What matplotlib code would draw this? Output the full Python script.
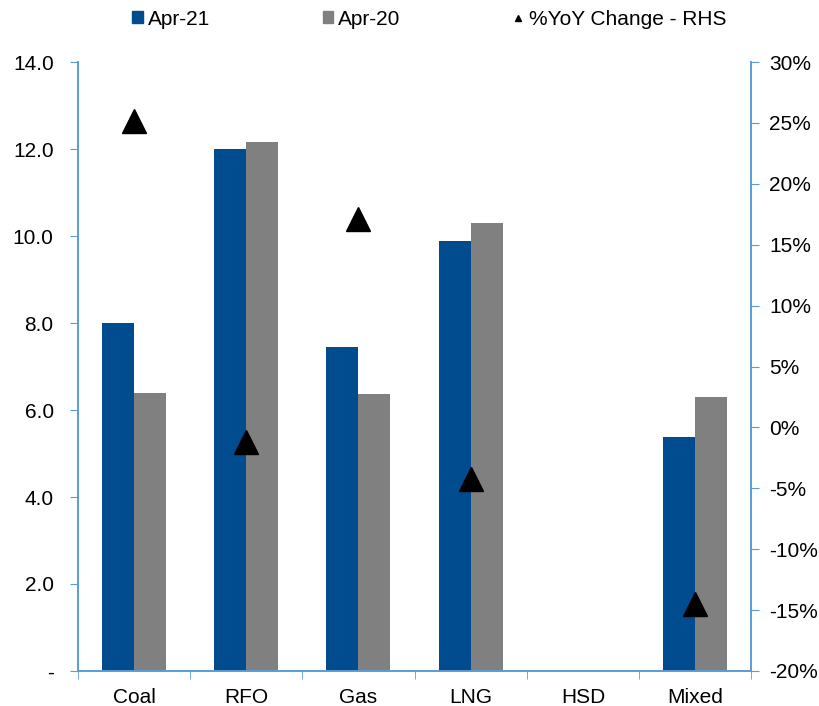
import matplotlib.pyplot as plt
import numpy as np
from matplotlib.lines import Line2D
from matplotlib.patches import Patch
from matplotlib.ticker import FuncFormatter, MultipleLocator

plt.rcParams["font.family"] = ["Liberation Sans", "DejaVu Sans"]

categories = ["Coal", "RFO", "Gas", "LNG", "HSD", "Mixed"]
apr21 = [8.0, 12.0, 7.46, 9.89, 0.0, 5.39]
apr20 = [6.40, 12.16, 6.36, 10.3, 0.0, 6.29]
yoy_change = [25.2, -1.2, 17.1, -4.2, np.nan, -14.5]

blue = "#004C8F"
gray = "#808080"
spine_color = "#5B9BD5"

fig = plt.figure(figsize=(8.19, 7.06), dpi=100)
ax = fig.add_axes([0.0952, 0.0496, 0.822, 0.8625])
ax2 = ax.twinx()

x = np.arange(len(categories))
width = 0.285
ax.bar(x - width / 2, apr21, width, color=blue, zorder=2)
ax.bar(x + width / 2, apr20, width, color=gray, zorder=2)

ax2.plot(x, yoy_change, linestyle="none", marker="^", color="black", markersize=17)

ax.set_xlim(-0.5, len(categories) - 0.5)
ax.set_ylim(0, 14)
ax.yaxis.set_major_locator(MultipleLocator(2))
ax.yaxis.set_major_formatter(FuncFormatter(lambda v, _: "-" if v == 0 else f"{v:.1f}"))
ax2.set_ylim(-20, 30)
ax2.yaxis.set_major_locator(MultipleLocator(5))
ax2.yaxis.set_major_formatter(FuncFormatter(lambda v, _: f"{v:.0f}%"))

ax.set_xticks(x)
ax.set_xticklabels(categories)
ax.set_xticks(np.arange(len(categories) + 1) - 0.5, minor=True)
ax.tick_params(axis="x", which="major", length=0, pad=12, labelsize=15)
ax.tick_params(axis="x", which="minor", length=6, color=spine_color, direction="out")
ax.tick_params(axis="y", length=6, color=spine_color, labelsize=15, pad=11.5)
ax2.tick_params(axis="y", length=6, color=spine_color, labelsize=15, pad=7)

for a in (ax, ax2):
    a.spines["top"].set_visible(False)
    for side in ("left", "right", "bottom"):
        a.spines[side].set_color(spine_color)
        a.spines[side].set_linewidth(1.2)

handles = [
    Patch(color=blue, label="Apr-21"),
    Patch(color=gray, label="Apr-20"),
    Line2D([], [], linestyle="none", marker="^", color="black", markersize=5,
           label="%YoY Change - RHS"),
]
fig.legend(handles=handles, loc="center", bbox_to_anchor=(0.524, 0.973), ncol=3,
           frameon=False, fontsize=15, handlelength=0.5, handleheight=0.5,
           handletextpad=0.25, columnspacing=5.4, borderaxespad=0, borderpad=0)

fig.savefig("out.png", dpi=100)
